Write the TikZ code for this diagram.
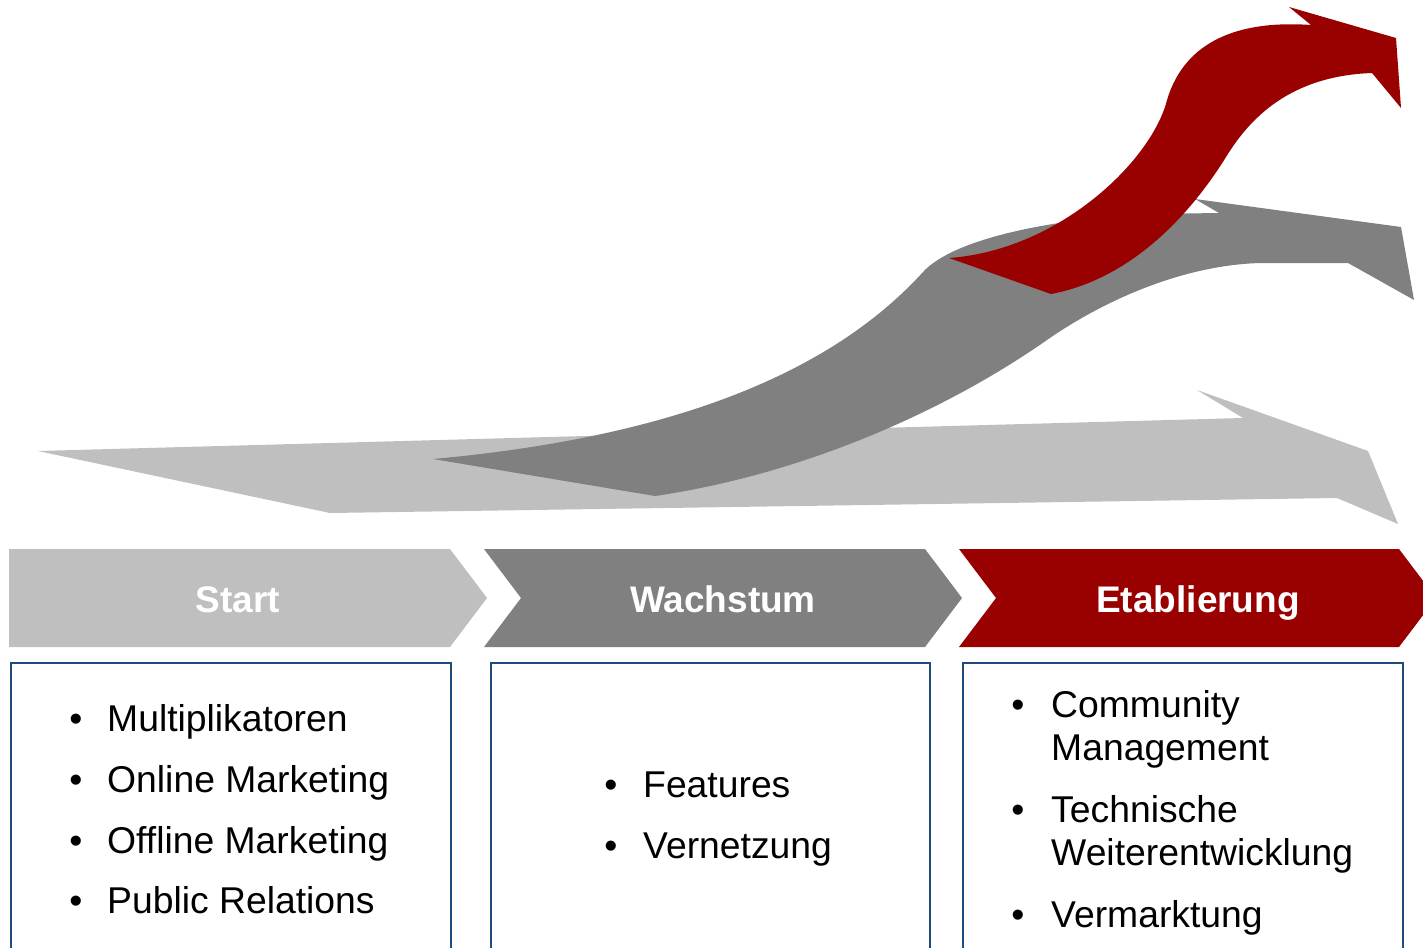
\documentclass[tikz,border=0pt]{standalone}
\usepackage{fontspec}
\setmainfont{Liberation Sans}
\definecolor{lgray}{HTML}{BFBFBF}
\definecolor{dgray}{HTML}{808080}
\definecolor{dred}{HTML}{990000}
\definecolor{navy}{HTML}{1F4A7C}
\tikzset{
  txt/.style={anchor=base west, inner sep=0pt, font=\fontsize{37.3}{44}\selectfont},
  bul/.style={anchor=base, inner sep=0pt, font=\fontsize{37.3}{44}\selectfont},
  ttl/.style={anchor=base, inner sep=0pt, text=white, font=\fontsize{37}{44}\selectfont\bfseries},
  infobox/.style={draw=navy, line width=2pt, fill=white},
}
\begin{document}
\begin{tikzpicture}[x=1pt,y=-1pt]
\useasboundingbox (0,0) rectangle (1423,947);
\clip (0,0) rectangle (1423,947);
% light gray arrow
\fill[lgray] (38,451) -- (1243,418) -- (1197,390) -- (1368,451) -- (1398,524) -- (1337,498) -- (330,513) -- cycle;
% dark gray arrow
\fill[dgray] (655,496) -- (433,459)
  .. controls (653,439) and (823,382) .. (923,272)
  .. controls (953,239) and (1050,219) .. (1150,214)
  -- (1219,213) -- (1195,199) -- (1401,227) -- (1414,300) -- (1348,263) -- (1261,263)
  .. controls (1180,265) and (1100,303) .. (1047,340)
  .. controls (947,410) and (805,474) .. (655,496)
  -- cycle;
% red arrow
\fill[dred] (949,258) -- (1051,294)
  .. controls (1131,279) and (1190,215) .. (1226,157)
  .. controls (1250,118) and (1290,76) .. (1372,73)
  -- (1401,108) -- (1396,38) -- (1289,7) -- (1311,25)
  .. controls (1240,20) and (1185,40) .. (1167,100)
  .. controls (1152,160) and (1060,250) .. (949,258)
  -- cycle;
% chevrons
\fill[lgray] (9,549) -- (450,549) -- (487,598) -- (450,647) -- (9,647) -- cycle;
\fill[dgray] (484,549) -- (925,549) -- (962,598) -- (925,647) -- (484,647) -- (521,598) -- cycle;
\fill[dred] (959,549) -- (1399,549) -- (1436,598) -- (1399,647) -- (959,647) -- (996,598) -- cycle;
\node[ttl] (t1) at (238,612) {Start};
\node[ttl] (t2) at (723,612) {Wachstum};
\node[ttl] (t3) at (1198,612) {Etablierung};
% boxes
\draw[infobox] (11,663) rectangle (451,960);
\draw[infobox] (491,663) rectangle (930,960);
\draw[infobox] (963,663) rectangle (1403,960);
% box 1 items
\node[bul] (b11) at (76,731) {•};
\node[txt] (i11) at (107,731) {Multiplikatoren};
\node[bul] (b12) at (76,792) {•};
\node[txt] (i12) at (107,792) {Online Marketing};
\node[bul] (b13) at (76,853) {•};
\node[txt] (i13) at (107,853) {Offline Marketing};
\node[bul] (b14) at (76,913) {•};
\node[txt] (i14) at (107,913) {Public Relations};
% box 2 items
\node[bul] (b21) at (611,797) {•};
\node[txt] (i21) at (643,797) {Features};
\node[bul] (b22) at (611,858) {•};
\node[txt] (i22) at (643,858) {Vernetzung};
% box 3 items
\node[bul] (b31) at (1018,717) {•};
\node[txt] (i31a) at (1051,717) {Community};
\node[txt] (i31b) at (1051,760) {Management};
\node[bul] (b32) at (1018,822) {•};
\node[txt] (i32a) at (1051,822) {Technische};
\node[txt] (i32b) at (1051,865) {Weiterentwicklung};
\node[bul] (b33) at (1018,927) {•};
\node[txt] (i33) at (1051,927) {Vermarktung};
\end{tikzpicture}
\end{document}
